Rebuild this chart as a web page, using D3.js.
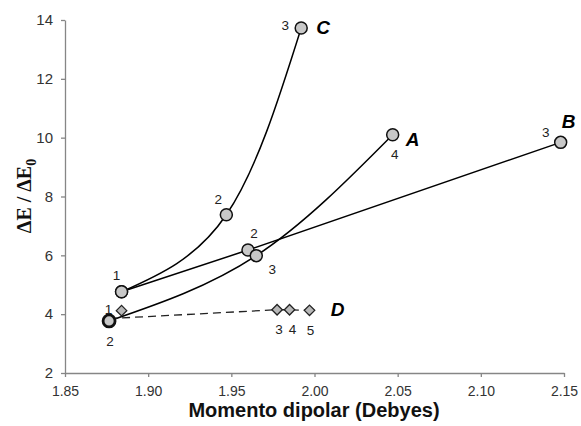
<!DOCTYPE html>
<html lang="en">
	<head>
		<meta charset="utf-8">
		<title>Momento dipolar</title>
		<script type="text/javascript" src="https://cdn.jsdelivr.net/npm/d3@7"></script>
		<style type="text/css">
			body { margin: 0; background: white; }
			.tick text {
				font-family: "Liberation Sans", Arial, sans-serif;
				font-size: 14px;
				fill: #333;
			}
			.ptlabel {
				font-family: "Liberation Sans", Arial, sans-serif;
				font-size: 13.5px;
				fill: #222;
			}
			.series {
				font-family: "Liberation Sans", Arial, sans-serif;
				font-size: 19px;
				font-weight: bold;
				font-style: italic;
			}
		</style>
	</head>
	<body>
		<script type="text/javascript">

			//Data
			let xA = [1.8765, 1.965, 2.047];
			let yA = [3.77, 5.99, 10.10];
			let labA = ["2", "3", "4"];

			let xB = [1.884, 1.960, 2.148];
			let yB = [4.76, 6.18, 9.84];
			let labB = ["", "2", "3"];

			let xC = [1.884, 1.947, 1.992];
			let yC = [4.76, 7.38, 13.73];
			let labC = ["1", "2", "3"];

			let xD = [1.884, 1.8765, 1.9775, 1.985, 1.997];
			let yD = [4.12, 3.85, 4.15, 4.15, 4.13];
			let labD = ["1", "", "3", "4", "5"];

			let xTicks = [1.85, 1.90, 1.95, 2.00, 2.05, 2.10, 2.15];
			let yTicks = [2, 4, 6, 8, 10, 12, 14];

			//Label placement (pixels from the point)
			let offA = [[1, 20], [16, 14], [2, 20]];
			let offB = [[0, 0], [6, -17], [-15, -10]];
			let offC = [[-5, -17], [-8, -15], [-16, -3]];
			let offD = [[-13, -1], [0, 0], [2, 20], [3, 20], [1, 20]];

			let w = 581;
			let h = 426;

			let x = d3.scaleLinear().domain([1.85, 2.15]).range([65, 564]);
			let y = d3.scaleLinear().domain([2, 14]).range([373, 20]);

			let svg = d3.select("body")
						.append("svg")
						  .attr("width", w)
						  .attr("height", h);

			//Axes
			let xAxis = d3.axisBottom(x)
						.tickValues(xTicks)
						.tickFormat(d3.format(".2f"))
						.tickSize(4)
						.tickSizeOuter(0)
						.tickPadding(9);
			let yAxis = d3.axisLeft(y)
						.tickValues(yTicks)
						.tickSize(4)
						.tickSizeOuter(0)
						.tickPadding(8);

			svg.append("g")
				.attr("transform", "translate(0," + y(2) + ")")
				.call(xAxis);
			let gy = svg.append("g")
				.attr("transform", "translate(" + x(1.85) + ",0)")
				.call(yAxis);
			gy.selectAll(".tick text").style("font-size", "15px");
			svg.selectAll(".domain, .tick line")
				.attr("stroke", "#868686")
				.attr("stroke-width", 1.3);

			//Axis titles
			svg.append("text")
				.attr("x", 314)
				.attr("y", 417)
				.attr("text-anchor", "middle")
				.attr("font-family", "'Liberation Sans', Arial, sans-serif")
				.attr("font-size", 20)
				.attr("font-weight", "bold")
				.attr("fill", "#111")
				.text("Momento dipolar (Debyes)");

			let yt = svg.append("text")
				.attr("transform", "translate(31,196) rotate(-90)")
				.attr("text-anchor", "middle")
				.attr("font-family", "'Liberation Serif', 'Times New Roman', serif")
				.attr("font-size", 20)
				.attr("font-weight", "bold")
				.attr("fill", "#111");
			yt.append("tspan").text("\u0394E / \u0394E");
			yt.append("tspan").attr("font-size", 14).attr("dy", 5).text("0");

			let pts = (xs, ys) => xs.map((v, i) => [x(v), y(ys[i])]);

			let smooth = d3.line().curve(d3.curveNatural);
			let straight = d3.line();

			//Lines
			svg.append("path")
				.attr("d", smooth(pts(xC, yC)))
				.attr("fill", "none").attr("stroke", "black").attr("stroke-width", 1.5);
			svg.append("path")
				.attr("d", smooth(pts(xA, yA)))
				.attr("fill", "none").attr("stroke", "black").attr("stroke-width", 1.5);
			svg.append("path")
				.attr("d", straight(pts(xB, yB)))
				.attr("fill", "none").attr("stroke", "black").attr("stroke-width", 1.5);
			svg.append("path")
				.attr("d", straight(pts(xD, yD).slice(1)))
				.attr("fill", "none").attr("stroke", "#222").attr("stroke-width", 1.3)
				.attr("stroke-dasharray", "8,5");

			//Diamonds
			svg.selectAll("path.dia")
				.data(pts(xD, yD))
				.enter()
			  .append("path")
				.attr("class", "dia")
				.attr("d", d3.symbol(d3.symbolDiamond2, 70)())
				.attr("transform", d => `translate(${d})`)
				.attr("fill", "#b8b8b8")
				.attr("stroke", "#222")
				.attr("stroke-width", 1.3);

			//Circles
			let circ = [].concat(pts(xC, yC), pts(xB, yB), pts(xA, yA));
			svg.selectAll("circle.pt")
				.data(circ)
				.enter()
			  .append("circle")
				.attr("class", "pt")
				.attr("cx", d => d[0])
				.attr("cy", d => d[1])
				.attr("r", 6)
				.attr("fill", "#c8c8c8")
				.attr("stroke", "#111")
				.attr("stroke-width", (d, i) => i === 6 ? 2.8 : 1.5);

			//Point labels
			let labelSet = (xs, ys, labs, offs) => xs.map((v, i) => ({
				px: x(v) + offs[i][0], py: y(ys[i]) + offs[i][1], t: labs[i] }));
			let allLabels = [].concat(
				labelSet(xA, yA, labA, offA),
				labelSet(xB, yB, labB, offB),
				labelSet(xC, yC, labC, offC),
				labelSet(xD, yD, labD, offD)).filter(d => d.t !== "");

			svg.selectAll("text.ptlabel")
				.data(allLabels)
				.enter()
			  .append("text")
				.attr("class", "ptlabel")
				.attr("x", d => d.px)
				.attr("y", d => d.py)
				.attr("dy", "0.35em")
				.attr("text-anchor", "middle")
				.text(d => d.t);

			//Series names next to the last point
			let names = [
				{ t: "A", p: [x(xA[2]) + 20, y(yA[2]) + 5] },
				{ t: "B", p: [x(xB[2]) + 8, y(yB[2]) - 21] },
				{ t: "C", p: [x(xC[2]) + 22, y(yC[2]) - 1] },
				{ t: "D", p: [x(xD[4]) + 28, y(yD[4]) - 1] }
			];
			svg.selectAll("text.series")
				.data(names)
				.enter()
			  .append("text")
				.attr("class", "series")
				.attr("x", d => d.p[0])
				.attr("y", d => d.p[1])
				.attr("dy", "0.35em")
				.attr("text-anchor", "middle")
				.text(d => d.t);

		</script>
	</body>
</html>
